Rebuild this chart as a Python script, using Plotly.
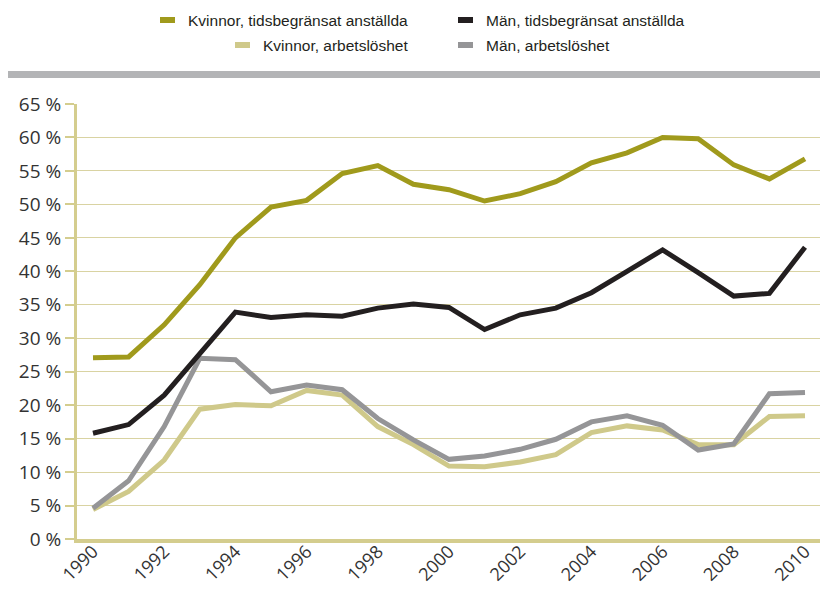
import plotly.graph_objects as go

years = list(range(1990, 2011))

kvinnor_tids = [27.1, 27.2, 32.0, 38.0, 45.0, 49.6, 50.6, 54.6, 55.8, 53.0, 52.2, 50.5, 51.6, 53.4, 56.2, 57.7, 60.0, 59.8, 55.9, 53.8, 56.8]
man_tids = [15.8, 17.1, 21.5, 27.8, 33.9, 33.1, 33.5, 33.3, 34.5, 35.1, 34.6, 31.3, 33.5, 34.5, 36.8, 40.0, 43.2, 39.8, 36.3, 36.7, 43.6]
kvinnor_arb = [4.4, 7.1, 11.8, 19.4, 20.1, 19.9, 22.2, 21.5, 16.8, 14.1, 10.9, 10.8, 11.5, 12.6, 15.9, 16.9, 16.3, 14.1, 14.1, 18.3, 18.4]
man_arb = [4.6, 8.7, 16.8, 27.0, 26.8, 22.0, 23.0, 22.3, 18.0, 14.8, 11.9, 12.4, 13.4, 14.9, 17.5, 18.4, 17.0, 13.3, 14.2, 21.7, 21.9]

names = ["Kvinnor, tidsbegränsat anställda", "Män, tidsbegränsat anställda",
         "Kvinnor, arbetslöshet", "Män, arbetslöshet"]
colors = ["#a09a1c", "#231f20", "#cfc98a", "#959597"]

y_ticks = list(range(0, 70, 5))
y_labels = [f"{v} %" for v in y_ticks]
x_ticks = list(range(1990, 2011, 2))
x_labels = [str(v) for v in x_ticks]

fig = go.Figure()
series = [kvinnor_arb, man_arb, man_tids, kvinnor_tids]
order = [2, 3, 1, 0]
for s, i in zip(series, order):
    fig.add_trace(go.Scatter(x=years, y=s, mode="lines", name=names[i],
                             line=dict(color=colors[i], width=5),
                             showlegend=False))

L, R, T, B = 77, 0, 104, 51
W, H = 820, 590
pw, ph = W - L - R, H - T - B

def px(x):
    return (x - L) / pw

def py(y):
    return (H - B - y) / ph

shapes = []
annotations = []
# gray bar
shapes.append(dict(type="rect", xref="paper", yref="paper", x0=px(8), x1=px(820),
                   y0=py(78), y1=py(71), fillcolor="#b3b4b6", line=dict(width=0)))
# legend
leg = [  # (marker x0, text x, y, idx)
    (157, 186, 20, 0),
    (455, 484, 20, 1),
    (232, 261, 45, 2),
    (455, 484, 45, 3),
]
for mx, tx, yy, i in leg:
    shapes.append(dict(type="line", xref="paper", yref="paper", x0=px(mx + 3), x1=px(mx + 18),
                       y0=py(yy), y1=py(yy), line=dict(color=colors[i], width=6)))
    annotations.append(dict(xref="paper", yref="paper", x=px(tx), y=py(yy), text=names[i],
                            showarrow=False, xanchor="left", yanchor="middle",
                            font=dict(family="Liberation Sans Narrow, Arial Narrow, sans-serif",
                                      size=15.5, color="#231f20")))

fig.update_layout(
    width=W, height=H,
    margin=dict(l=L, r=R, t=T, b=B, autoexpand=False),
    paper_bgcolor="white", plot_bgcolor="white",
    shapes=shapes, annotations=annotations,
    xaxis=dict(range=[1990 - 16 / 35.6, 1990 + (820 - 93) / 35.6],
               tickvals=x_ticks, ticktext=x_labels,
               tickangle=-45, showgrid=False, zeroline=False,
               showline=True, linecolor="#d4cd8e", linewidth=4,
               ticks="", automargin=False, ticklabelstandoff=-9,
               tickfont=dict(family="Open Sans, sans-serif", size=18, color="#333333")),
    yaxis=dict(range=[0, 65], tickvals=y_ticks, ticktext=y_labels,
               showgrid=True, gridcolor="#d9d3a2", gridwidth=1.2,
               zeroline=False, showline=True, linecolor="#d4cd8e", linewidth=3,
               ticks="outside", ticklen=9, tickcolor="#d4cd8e", tickwidth=2,
               automargin=False,
               tickfont=dict(family="Open Sans, sans-serif", size=19, color="#333333")),
)

fig.write_html("out.html", config={"displayModeBar": False},
               post_script="document.body.style.margin='0';")
